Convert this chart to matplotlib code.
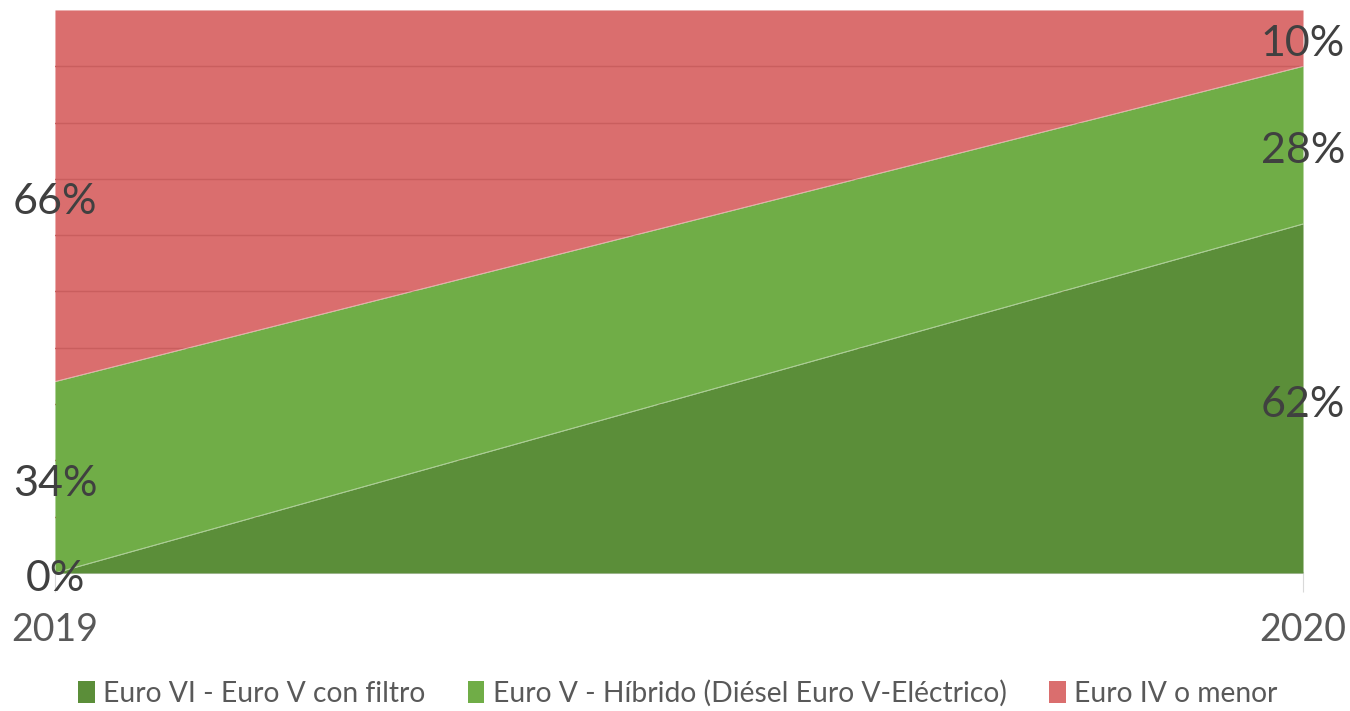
import matplotlib.pyplot as plt
import matplotlib.transforms as mtransforms
import numpy as np

# Datos (porcentaje del parque)
years = [2019, 2020]
euro_vi = [0, 62]
euro_v = [34, 28]
euro_iv = [66, 10]
series_names = ["Euro VI - Euro V con filtro",
                "Euro V - Híbrido (Diésel Euro V-Eléctrico)",
                "Euro IV o menor"]
colors = ["#5B8E39", "#70AD47", "#DA6E6E"]

plt.rcParams['font.family'] = ['Lato', 'DejaVu Sans']

fig = plt.figure(figsize=(13.5, 7.11), dpi=100)
ax = fig.add_axes([0.0407, 0.1941, 0.9245, 0.7919])

x = np.array(years)
b1 = np.array(euro_vi)
b2 = b1 + np.array(euro_v)
b3 = b2 + np.array(euro_iv)

# areas: rojo debajo de la cuadricula, verdes encima
ax.fill_between(x, b2, b3, color=colors[2], lw=0, zorder=1, label=series_names[2])
for yv in range(10, 100, 10):
    ax.axhline(yv, color="#C95E5E", lw=1, zorder=2)
ax.fill_between(x, b1, b2, color=colors[1], lw=0, zorder=3, label=series_names[1])
ax.fill_between(x, 0, b1, color=colors[0], lw=0, zorder=3, label=series_names[0])
ax.plot(x, b1, color="white", lw=0.6, alpha=0.5, zorder=4)
ax.plot(x, b2, color="white", lw=0.6, alpha=0.5, zorder=4)

ax.set_xlim(2019, 2020)
ax.set_ylim(0, 100)

# etiquetas de datos (un poco mas abajo para centrar los digitos)
shift = mtransforms.offset_copy(ax.transData, fig=fig, x=0, y=-4.5, units="points")
for i, xv in enumerate(years):
    vals = [euro_vi[i], euro_v[i], euro_iv[i]]
    lows = [0, b1[i], b2[i]]
    for v, lo in zip(vals, lows):
        yc = lo + v / 2
        ax.text(xv, yc, f"{v}%", ha="center", va="center", fontsize=31,
                color="#404040", zorder=6, clip_on=False, transform=shift)

ax.set_yticks([])
ax.set_xticks(years)
ax.set_xticklabels([str(y) for y in years], fontsize=27, color="#595959")
ax.tick_params(axis="x", length=14, color="#D9D9D9", pad=14, direction="out")
for s in ["top", "right", "left"]:
    ax.spines[s].set_visible(False)
ax.spines["bottom"].set_color("#D9D9D9")
ax.spines["bottom"].set_linewidth(1.5)

handles, labels = ax.get_legend_handles_labels()
order = [2, 1, 0]
leg = fig.legend([handles[k] for k in order], [labels[k] for k in order],
                 loc="center", bbox_to_anchor=(0.502, 0.025), ncol=3, frameon=False,
                 fontsize=20.3, handlelength=0.6, handleheight=0.8,
                 handletextpad=0.3, columnspacing=1.5, labelcolor="#595959")

fig.savefig("out.png", dpi=100)
